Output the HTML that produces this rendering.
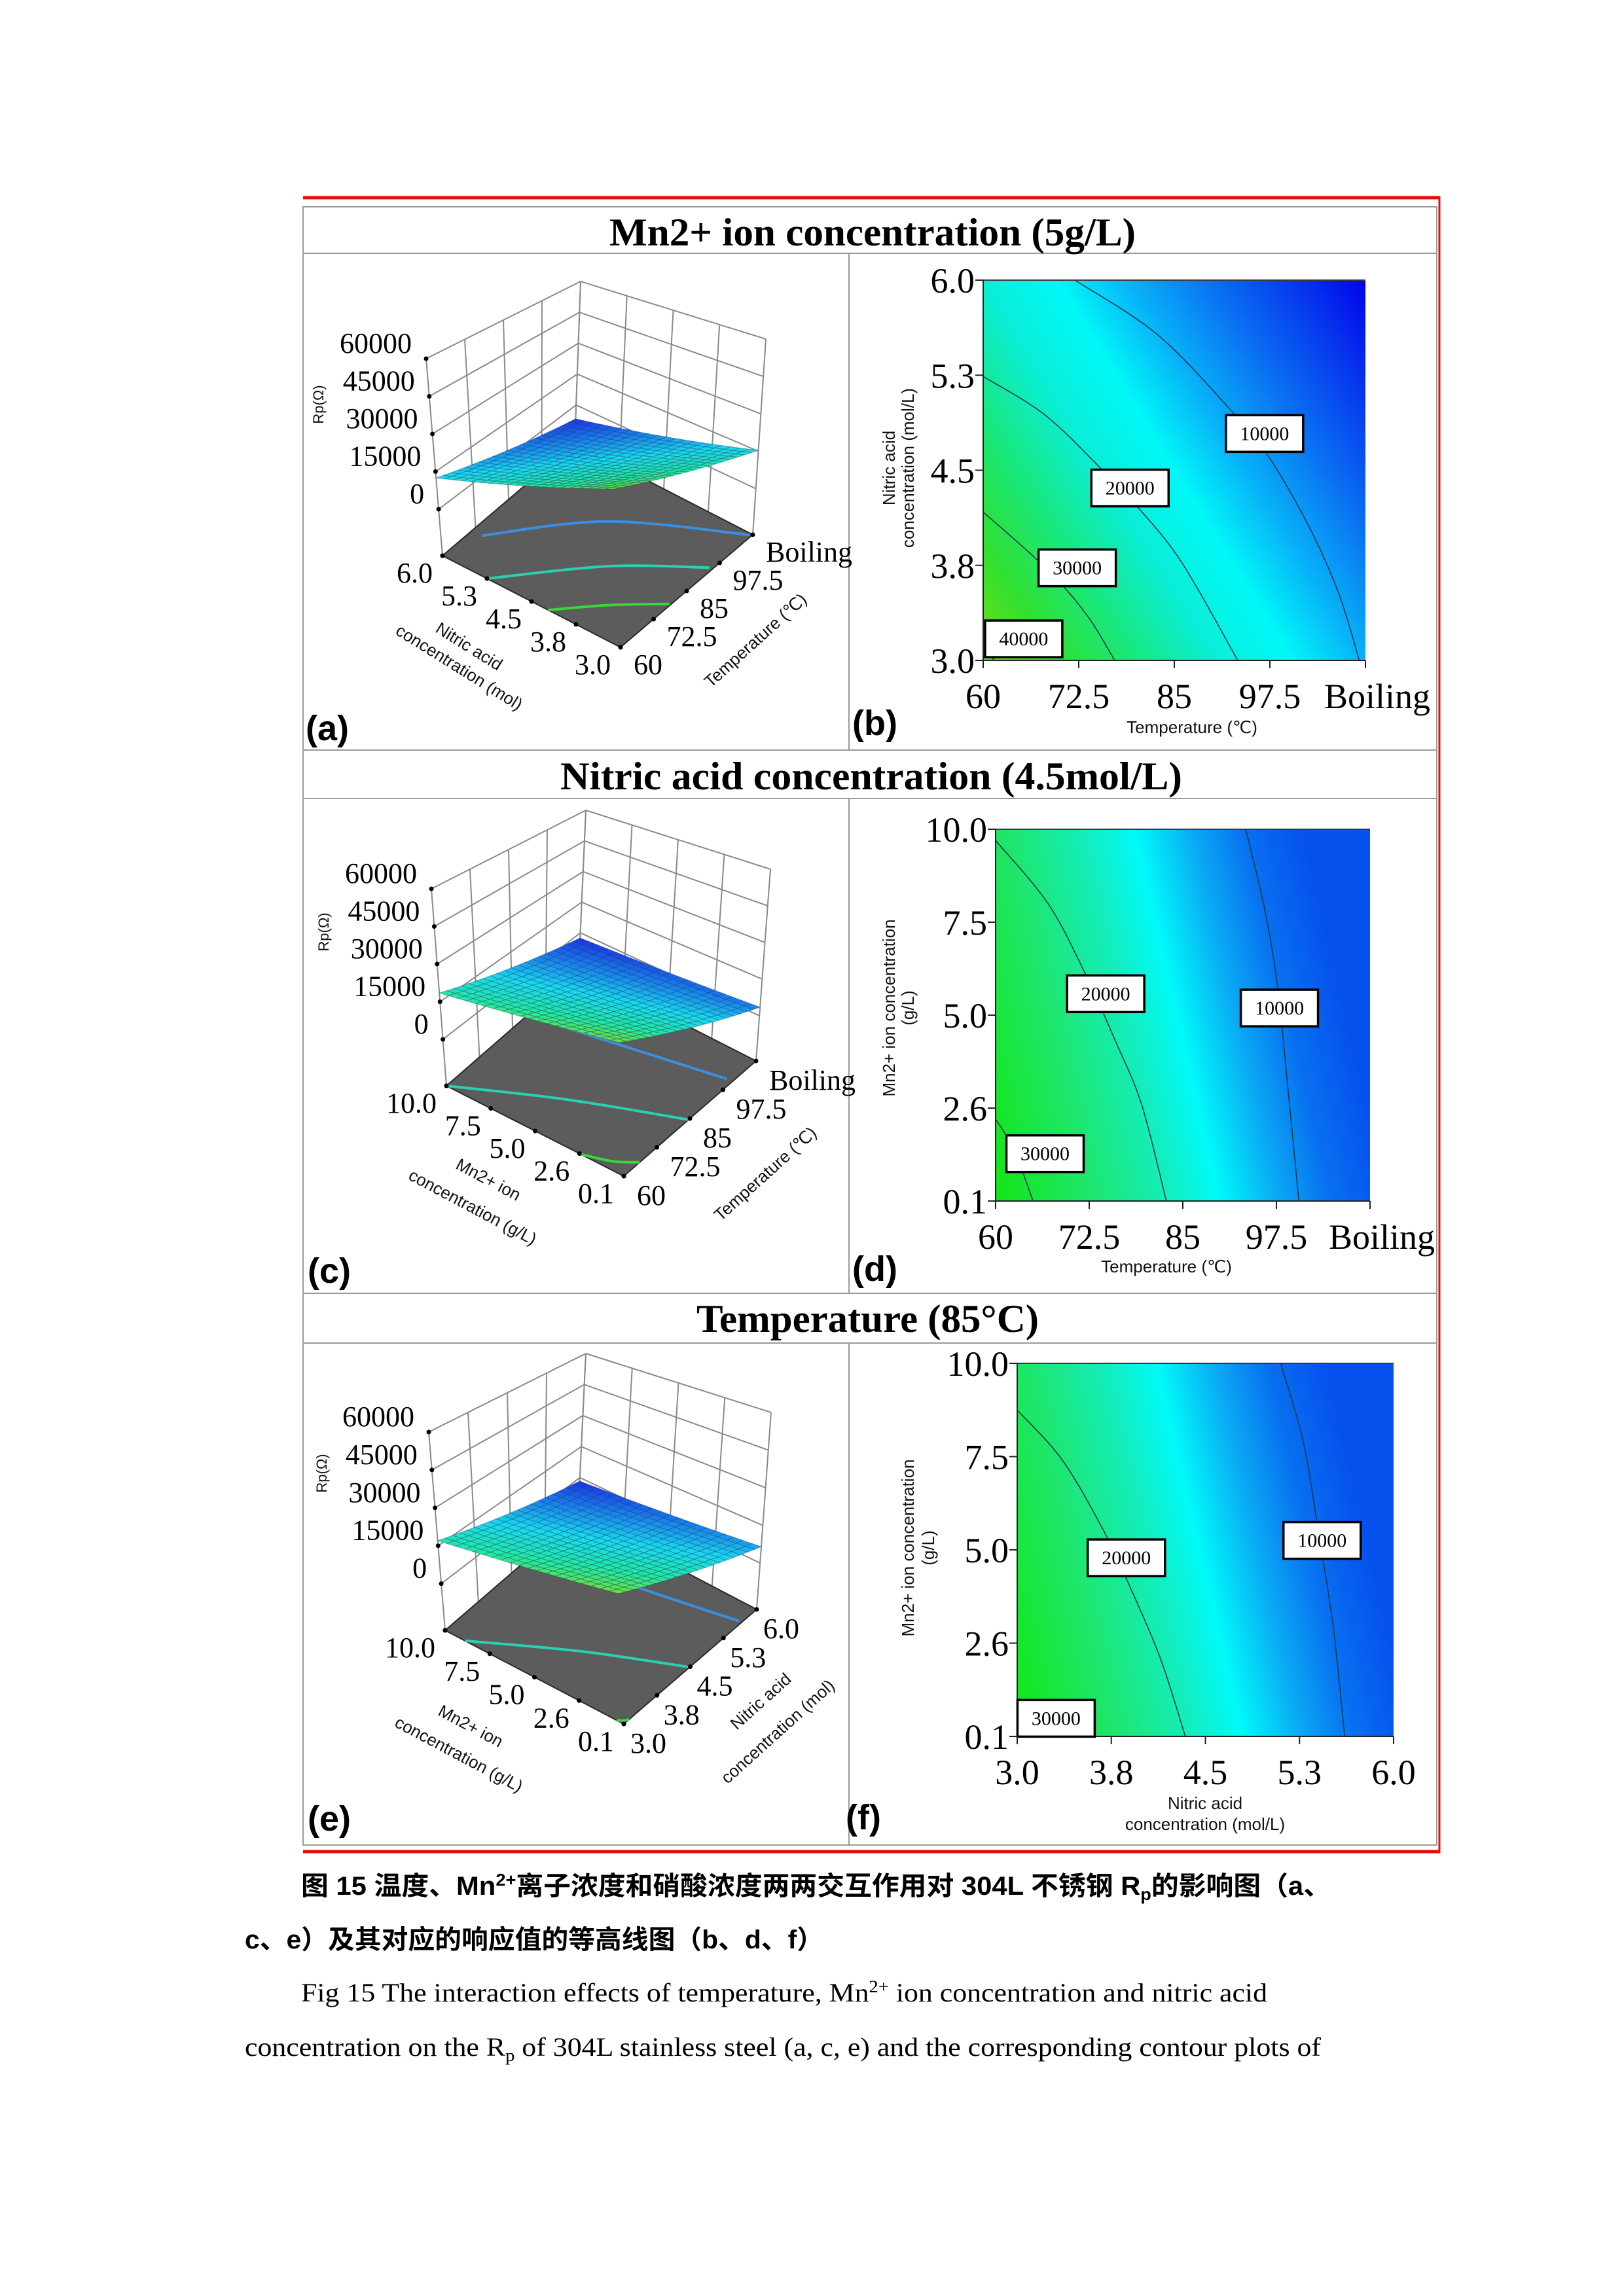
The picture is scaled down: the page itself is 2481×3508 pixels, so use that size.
<!DOCTYPE html>
<html><head><meta charset="utf-8"><title>Fig 15 response surfaces</title>
<style>body{margin:0;background:#fff}svg{display:block}</style></head>
<body>
<svg id="fig" xmlns="http://www.w3.org/2000/svg" width="2481" height="3508" viewBox="0 0 2481 3508">
<defs>
<linearGradient id="gradB" x1="0" y1="1" x2="1.17" y2="0.28">
<stop offset="0" stop-color="#6ee014"/><stop offset="0.12" stop-color="#30e030"/><stop offset="0.25" stop-color="#18e880"/><stop offset="0.38" stop-color="#0aeed8"/><stop offset="0.5" stop-color="#00f8f8"/><stop offset="0.62" stop-color="#08b0f8"/><stop offset="0.75" stop-color="#0a70f2"/><stop offset="0.9" stop-color="#0630ee"/><stop offset="1" stop-color="#0004ec"/>
</linearGradient>
<linearGradient id="gradD" x1="0" y1="1" x2="1" y2="0.77">
<stop offset="0" stop-color="#14e614"/><stop offset="0.25" stop-color="#1ee66e"/><stop offset="0.45" stop-color="#12eec0"/><stop offset="0.57" stop-color="#00fafa"/><stop offset="0.72" stop-color="#0aa8f4"/><stop offset="0.85" stop-color="#0870f0"/><stop offset="1" stop-color="#0650ee"/>
</linearGradient>
</defs>
<rect x="0" y="0" width="2481" height="3508" fill="#fff"/>
<g fill="none">
<rect x="463" y="316" width="1732" height="2503" stroke="#9a9a9a" stroke-width="2"/>
<line x1="463" y1="302" x2="2200" y2="302" stroke="#e01010" stroke-width="5"/>
<line x1="2199" y1="300" x2="2199" y2="2831" stroke="#e01010" stroke-width="3"/>
<line x1="463" y1="2829" x2="2200" y2="2829" stroke="#e01010" stroke-width="5"/>
<line x1="463" y1="387" x2="2195" y2="387" stroke="#9a9a9a" stroke-width="2"/>
<line x1="463" y1="1146" x2="2195" y2="1146" stroke="#9a9a9a" stroke-width="2"/>
<line x1="463" y1="1220" x2="2195" y2="1220" stroke="#9a9a9a" stroke-width="2"/>
<line x1="463" y1="1976" x2="2195" y2="1976" stroke="#9a9a9a" stroke-width="2"/>
<line x1="463" y1="2052" x2="2195" y2="2052" stroke="#9a9a9a" stroke-width="2"/>
<line x1="1297" y1="387" x2="1297" y2="1146" stroke="#9a9a9a" stroke-width="2"/>
<line x1="1297" y1="1220" x2="1297" y2="1976" stroke="#9a9a9a" stroke-width="2"/>
<line x1="1297" y1="2052" x2="1297" y2="2819" stroke="#9a9a9a" stroke-width="2"/>
</g>
<g font-family="'Liberation Serif','Noto Serif CJK SC',serif" font-weight="bold" font-size="60" fill="#000">
<text x="931" y="375" textLength="804" lengthAdjust="spacingAndGlyphs">Mn2+ ion concentration (5g/L)</text>
<text x="856" y="1206" textLength="950" lengthAdjust="spacingAndGlyphs">Nitric acid concentration  (4.5mol/L)</text>
<text x="1064" y="2035" textLength="523" lengthAdjust="spacingAndGlyphs">Temperature (85°C)</text>
</g>
<g font-family="'Liberation Sans',sans-serif" font-weight="bold" font-size="54" fill="#000">
<text x="467" y="1131">(a)</text>
<text x="1302" y="1123">(b)</text>
<text x="470" y="1960">(c)</text>
<text x="1302" y="1957">(d)</text>
<text x="470" y="2797">(e)</text>
<text x="1292" y="2795">(f)</text>
</g>
<g font-family="'Liberation Sans','Noto Sans CJK SC',sans-serif" font-weight="bold" font-size="40" fill="#000">
<text x="460" y="2895" textLength="1573" lengthAdjust="spacingAndGlyphs">图 15 温度、Mn<tspan font-size="26" dy="-14">2+</tspan><tspan dy="14">离子浓度和硝酸浓度两两交互作用对 304L 不锈钢 R</tspan><tspan font-size="26" dy="8">p</tspan><tspan dy="-8">的影响图（a、</tspan></text>
<text x="374" y="2977" textLength="884" lengthAdjust="spacingAndGlyphs">c、e）及其对应的响应值的等高线图（b、d、f）</text>
</g>
<g font-family="'Liberation Serif',serif" font-size="40" fill="#000">
<text x="460" y="3058" textLength="1476" lengthAdjust="spacingAndGlyphs">Fig 15 The interaction effects of temperature, Mn<tspan font-size="26" dy="-14">2+</tspan><tspan dy="14"> ion concentration and nitric acid</tspan></text>
<text x="374" y="3141" textLength="1644" lengthAdjust="spacingAndGlyphs">concentration on the R<tspan font-size="26" dy="8">p</tspan><tspan dy="-8"> of 304L stainless steel (a, c, e) and the corresponding contour plots of</tspan></text>
</g>
<g id="charts"></g>
</svg>
<script>
// ---------- data: 3D panels ----------
const zTickValues = [0, 15000, 30000, 45000, 60000];
const zTickLabels = ['0', '15000', '30000', '45000', '60000'];
const tempTickValues = [60, 72.5, 85, 97.5, 110];
const tempTickLabels = ['60', '72.5', '85', '97.5', 'Boiling'];
const nitricTickValues = [3, 3.75, 4.5, 5.25, 6];
const nitricTickLabels = ['3.0', '3.8', '4.5', '5.3', '6.0'];
const mnTickValues = [0.1, 2.575, 5.05, 7.525, 10];
const mnTickLabels = ['0.1', '2.6', '5.0', '7.5', '10.0'];

const aSurfaceLowV = [35300, 15400];
const aSurfaceHighV = [12500, -6700];
const cSurfaceLowV = [27400, 3500];
const cSurfaceHighV = [18500, -2500];
const eSurfaceLowV = [25400, 6500];
const eSurfaceHighV = [17000, -1700];

const aFloorBlueU = [71.2, 93, 109.5]; const aFloorBlueV = [5.83, 4.69, 3.03];
const aFloorTealU = [60, 80.7, 94.7];  const aFloorTealV = [5.25, 4.13, 3.05];
const aFloorGreenU = [60, 69.9, 79];   const aFloorGreenV = [4.22, 3.65, 3.02];
const cFloorBlueU = [90.5, 95.8, 101]; const cFloorBlueV = [10, 5.2, 0.4];
const cFloorTealU = [60, 73.1, 84.5];  const cFloorTealV = [10, 5.18, 0.1];
const cFloorGreenU = [60, 62.5, 66];   const cFloorGreenV = [2.5, 1.1, 0.1];
const eFloorBlueU = [5.04, 5.37, 5.66]; const eFloorBlueV = [10, 4.65, 0.24];
const eFloorTealU = [3.0, 3.82, 4.48];  const eFloorTealV = [8.9, 4.47, 0.15];
const eFloorGreenU = [3.0, 3.05, 3.12]; const eFloorGreenV = [0.5, 0.25, 0.1];

// ---------- data: contour panels ----------
const bC10000Temp = [72, 82.8, 92.6, 97.2, 102.5, 106.5, 109.2];
const bC10000Nitric = [6.0, 5.57, 4.96, 4.62, 4.07, 3.53, 3.0];
const bC20000Temp = [60, 68, 75.3, 80.2, 86, 93.3];
const bC20000Nitric = [5.24, 4.94, 4.52, 4.21, 3.77, 3.0];
const bC30000Temp = [60, 66.4, 70.4, 74, 77.2];
const bC30000Nitric = [4.17, 3.83, 3.59, 3.32, 3.0];
const bC40000Temp = [60, 61.5];
const bC40000Nitric = [3.09, 3.0];
const bLabelText = ['10000', '20000', '30000', '40000'];
const bLabelTemp = [96.8, 79.2, 72.3, 65.3];
const bLabelNitric = [4.79, 4.36, 3.73, 3.17];

const dC20000Temp = [60, 67, 72, 76, 79.5, 82.8];
const dC20000Mn = [9.7, 8.02, 6.14, 4.36, 2.67, 0.1];
const dC10000Temp = [93.4, 96, 97.7, 99, 100.5];
const dC10000Mn = [10, 7.82, 5.74, 3.17, 0.1];
const dC30000Temp = [60, 62.4, 65];
const dC30000Mn = [2.28, 1.49, 0.1];
const dLabelText = ['20000', '10000', '30000'];
const dLabelTemp = [74.7, 97.9, 66.6];
const dLabelMn = [5.62, 5.24, 1.36];

const fC20000Nitric = [3.0, 3.36, 3.69, 3.9, 4.14, 4.34];
const fC20000Mn = [8.76, 7.43, 5.55, 4.06, 2.18, 0.1];
const fC10000Nitric = [5.1, 5.28, 5.4, 5.52, 5.61];
const fC10000Mn = [10, 7.92, 5.55, 2.97, 0.1];
const fLabelText = ['20000', '10000', '30000'];
const fLabelNitric = [3.87, 5.43, 3.31];
const fLabelMn = [4.84, 5.3, 0.58];

// ---------- helpers ----------
const NS = 'http://www.w3.org/2000/svg';
const root = document.getElementById('charts');
function mk(tag, attrs, parent, name) {
  const e = document.createElementNS(NS, tag);
  for (const k in attrs) e.setAttribute(k, attrs[k]);
  
  
  parent.appendChild(e);
  return e;
}
function smoothPath(pts) {
  let d = 'M' + pts[0][0].toFixed(1) + ',' + pts[0][1].toFixed(1);
  if (pts.length === 2) return d + 'L' + pts[1][0].toFixed(1) + ',' + pts[1][1].toFixed(1);
  for (let i = 0; i < pts.length - 1; i++) {
    const p0 = pts[Math.max(0, i - 1)], p1 = pts[i], p2 = pts[i + 1], p3 = pts[Math.min(pts.length - 1, i + 2)];
    const c1 = [p1[0] + (p2[0] - p0[0]) / 6, p1[1] + (p2[1] - p0[1]) / 6];
    const c2 = [p2[0] - (p3[0] - p1[0]) / 6, p2[1] - (p3[1] - p1[1]) / 6];
    d += 'C' + c1[0].toFixed(1) + ',' + c1[1].toFixed(1) + ' ' + c2[0].toFixed(1) + ',' + c2[1].toFixed(1) + ' ' + p2[0].toFixed(1) + ',' + p2[1].toFixed(1);
  }
  return d;
}
function hex2rgb(h) { return [parseInt(h.substr(1, 2), 16), parseInt(h.substr(3, 2), 16), parseInt(h.substr(5, 2), 16)]; }
const cmapStops = [[0, '#1a35e6'], [0.45, '#18d8f0'], [0.75, '#22e8a0'], [1, '#70e038']];
function cmap(t) {
  t = Math.max(0, Math.min(1, t));
  for (let i = 0; i < cmapStops.length - 1; i++) {
    const [a, ca] = cmapStops[i], [b, cb] = cmapStops[i + 1];
    if (t <= b) {
      const f = (t - a) / (b - a), A = hex2rgb(ca), B = hex2rgb(cb);
      return 'rgb(' + A.map((x, k) => Math.round(x + f * (B[k] - x))).join(',') + ')';
    }
  }
  return cmapStops[cmapStops.length - 1][1];
}

// ---------- 3D panel ----------
const ZMIN = -18500, ZMAX = 60000;
function draw3D(cfg) {
  const g = mk('g', {}, root, cfg.name);
  const F = cfg.F, R = cfg.R, L = cfg.L, Lt = cfg.Lt, Bt = cfg.Bt, Rt = cfg.Rt;
  const Ft = [Lt[0] + Rt[0] - Bt[0], Lt[1] + Rt[1] - Bt[1]];
  const P = (u, v, w) => {
    const fx = F[0] + u * (R[0] - F[0]) + v * (L[0] - F[0]);
    const fy = F[1] + u * (R[1] - F[1]) + v * (L[1] - F[1]);
    const tx = Ft[0] + u * (Rt[0] - Ft[0]) + v * (Lt[0] - Ft[0]);
    const ty = Ft[1] + u * (Rt[1] - Ft[1]) + v * (Lt[1] - Ft[1]);
    return [fx + w * (tx - fx), fy + w * (ty - fy)];
  };
  const uS = x => (x - cfg.uDom[0]) / (cfg.uDom[1] - cfg.uDom[0]);
  const vS = x => (x - cfg.vDom[0]) / (cfg.vDom[1] - cfg.vDom[0]);
  const wS = z => (z - ZMIN) / (ZMAX - ZMIN);
  const line = (a, b, name, stroke, sw) => mk('line', { x1: a[0], y1: a[1], x2: b[0], y2: b[1], stroke: stroke, 'stroke-width': sw }, g, name);
  const wallLevels = [0].concat(zTickValues.map(wS));
  cfg.uTicks.forEach(t => line(P(uS(t), 1, 0), P(uS(t), 1, 1), 'wall-grid-vertical', '#8a8a8a', 2));
  cfg.vTicks.forEach(t => line(P(1, vS(t), 0), P(1, vS(t), 1), 'wall-grid-vertical', '#8a8a8a', 2));
  wallLevels.forEach(w => { line(P(0, 1, w), P(1, 1, w), 'wall-grid-horizontal', '#8a8a8a', 2); line(P(1, 1, w), P(1, 0, w), 'wall-grid-horizontal', '#8a8a8a', 2); });
  const fl = [P(0, 0, 0), P(1, 0, 0), P(1, 1, 0), P(0, 1, 0)];
  mk('polygon', { points: fl.map(p => p.join(',')).join(' '), fill: '#5c5c5c', stroke: '#2a2a2a', 'stroke-width': 2 }, g, 'floor-projection');
  cfg.floorLines.forEach(fc => {
    const pts = fc.u.map((x, i) => P(uS(x), vS(fc.v[i]), 0));
    mk('path', { d: smoothPath(pts), fill: 'none', stroke: fc.color, 'stroke-width': 4 }, g, fc.name);
  });
  const N = 20, s = cfg.surf;
  const vals = [s.lowV[0], s.lowV[1], s.highV[0], s.highV[1]];
  const vmin = Math.min(...vals), vmax = Math.max(...vals);
  const zAt = (u, v) => (1 - v) * ((1 - u) * s.lowV[0] + u * s.lowV[1]) + v * ((1 - u) * s.highV[0] + u * s.highV[1]);
  const sg = mk('g', {}, g, 'response-surface');
  const cells = [];
  for (let i = 0; i < N; i++) for (let j = 0; j < N; j++) cells.push([i, j]);
  cells.sort((a, b) => (b[0] + b[1]) - (a[0] + a[1]));
  cells.forEach(([i, j]) => {
    const u0 = i / N, u1 = (i + 1) / N, v0 = j / N, v1 = (j + 1) / N;
    const pts = [[u0, v0], [u1, v0], [u1, v1], [u0, v1]].map(([u, v]) => P(u, v, wS(zAt(u, v))));
    const zc = zAt((u0 + u1) / 2, (v0 + v1) / 2);
    mk('polygon', { points: pts.map(p => p[0].toFixed(1) + ',' + p[1].toFixed(1)).join(' '), fill: cmap((zc - vmin) / (vmax - vmin)), stroke: 'rgba(20,50,90,0.35)', 'stroke-width': 1 }, sg, 'surface-cell');
  });
  wallLevels.forEach(w => { const p = P(0, 1, w); mk('circle', { cx: p[0], cy: p[1], r: 3.5, fill: '#000' }, g, 'z-tick'); });
  cfg.uTicks.forEach(t => { const p = P(uS(t), 0, 0); mk('circle', { cx: p[0], cy: p[1], r: 3.5, fill: '#000' }, g, 'u-tick'); });
  cfg.vTicks.forEach(t => { const p = P(0, vS(t), 0); mk('circle', { cx: p[0], cy: p[1], r: 3.5, fill: '#000' }, g, 'v-tick'); });
  const tf = "'Liberation Serif',serif";
  zTickValues.forEach((z, i) => {
    const p = P(0, 1, wS(z));
    const t = mk('text', { x: p[0] - 22, y: p[1] - 9, 'text-anchor': 'end', 'font-family': tf, 'font-size': 44 }, g, 'z-tick-label');
    t.textContent = zTickLabels[i];
  });
  cfg.uTicks.forEach((v, i) => {
    const p = P(uS(v), 0, 0);
    const t = mk('text', { x: p[0] + cfg.uOff[0], y: p[1] + cfg.uOff[1], 'text-anchor': 'start', 'font-family': tf, 'font-size': 44 }, g, 'u-tick-label');
    t.textContent = cfg.uLabels[i];
  });
  cfg.vTicks.forEach((v, i) => {
    const p = P(0, vS(v), 0);
    const t = mk('text', { x: p[0] - 15, y: p[1] + 41, 'text-anchor': 'end', 'font-family': tf, 'font-size': 44 }, g, 'v-tick-label');
    t.textContent = cfg.vLabels[i];
  });
  const sf = "'Liberation Sans','DejaVu Sans',sans-serif";
  cfg.titles.forEach(tt => {
    const t = mk('text', { x: 0, y: 0, transform: 'translate(' + tt.x + ',' + tt.y + ') rotate(' + tt.rot + ')', 'text-anchor': 'middle', 'font-family': sf, 'font-size': tt.fs || 26, fill: '#111' }, g, tt.name);
    t.textContent = tt.text;
  });
}

draw3D({
  name: 'surface-plot-a', F: [948, 989], R: [1150, 817], L: [676, 849], Lt: [651, 548], Bt: [887, 430], Rt: [1170, 518],
  uDom: [60, 110], vDom: [3, 6], uTicks: tempTickValues, uLabels: tempTickLabels, vTicks: nitricTickValues, vLabels: nitricTickLabels,
  uOff: [20, 41], surf: { lowV: aSurfaceLowV, highV: aSurfaceHighV },
  floorLines: [
    { name: 'floor-contour-10000', u: aFloorBlueU, v: aFloorBlueV, color: '#3a8fe0' },
    { name: 'floor-contour-20000', u: aFloorTealU, v: aFloorTealV, color: '#2ad0b0' },
    { name: 'floor-contour-30000', u: aFloorGreenU, v: aFloorGreenV, color: '#38d838' }],
  titles: [
    { name: 'z-axis-title', text: 'Rp(Ω)', x: 494, y: 618, rot: -90, fs: 22 },
    { name: 'nitric-axis-title-line1', text: 'Nitric acid', x: 712, y: 995, rot: 32 },
    { name: 'nitric-axis-title-line2', text: 'concentration (mol)', x: 697, y: 1027, rot: 32 },
    { name: 'temperature-axis-title', text: 'Temperature (℃)', x: 1160, y: 985, rot: -42 }]
});
draw3D({
  name: 'surface-plot-c', F: [953, 1797], R: [1155, 1621], L: [682, 1659], Lt: [659, 1358], Bt: [895, 1238], Rt: [1177, 1328],
  uDom: [60, 110], vDom: [0.1, 10], uTicks: tempTickValues, uLabels: tempTickLabels, vTicks: mnTickValues, vLabels: mnTickLabels,
  uOff: [20, 44], surf: { lowV: cSurfaceLowV, highV: cSurfaceHighV },
  floorLines: [
    { name: 'floor-contour-10000', u: cFloorBlueU, v: cFloorBlueV, color: '#3a8fe0' },
    { name: 'floor-contour-20000', u: cFloorTealU, v: cFloorTealV, color: '#2ad0b0' },
    { name: 'floor-contour-30000', u: cFloorGreenU, v: cFloorGreenV, color: '#38d838' }],
  titles: [
    { name: 'z-axis-title', text: 'Rp(Ω)', x: 502, y: 1424, rot: -90, fs: 22 },
    { name: 'mn-axis-title-line1', text: 'Mn2+ ion', x: 742, y: 1810, rot: 28 },
    { name: 'mn-axis-title-line2', text: 'concentration (g/L)', x: 718, y: 1852, rot: 28 },
    { name: 'temperature-axis-title', text: 'Temperature (℃)', x: 1175, y: 1800, rot: -42 }]
});
draw3D({
  name: 'surface-plot-e', F: [953, 2634], R: [1156, 2459], L: [680, 2491], Lt: [655, 2188], Bt: [895, 2068], Rt: [1178, 2158],
  uDom: [3, 6], vDom: [0.1, 10], uTicks: nitricTickValues, uLabels: nitricTickLabels, vTicks: mnTickValues, vLabels: mnTickLabels,
  uOff: [10, 44], surf: { lowV: eSurfaceLowV, highV: eSurfaceHighV },
  floorLines: [
    { name: 'floor-contour-10000', u: eFloorBlueU, v: eFloorBlueV, color: '#3a8fe0' },
    { name: 'floor-contour-20000', u: eFloorTealU, v: eFloorTealV, color: '#2ad0b0' },
    { name: 'floor-contour-30000', u: eFloorGreenU, v: eFloorGreenV, color: '#38d838' }],
  titles: [
    { name: 'z-axis-title', text: 'Rp(Ω)', x: 499, y: 2251, rot: -90, fs: 22 },
    { name: 'mn-axis-title-line1', text: 'Mn2+ ion', x: 715, y: 2645, rot: 28 },
    { name: 'mn-axis-title-line2', text: 'concentration (g/L)', x: 697, y: 2688, rot: 28 },
    { name: 'nitric-axis-title-line1', text: 'Nitric acid', x: 1168, y: 2606, rot: -42 },
    { name: 'nitric-axis-title-line2', text: 'concentration (mol)', x: 1194, y: 2652, rot: -42 }]
});

// ---------- contour panel ----------
function drawContour(cfg) {
  const g = mk('g', {}, root, cfg.name);
  const [x0, y0, x1, y1] = cfg.rect;
  const X = v => x0 + (v - cfg.xDom[0]) / (cfg.xDom[1] - cfg.xDom[0]) * (x1 - x0);
  const Y = v => y1 - (v - cfg.yDom[0]) / (cfg.yDom[1] - cfg.yDom[0]) * (y1 - y0);
  mk('rect', { x: x0, y: y0, width: x1 - x0, height: y1 - y0, fill: 'url(#' + cfg.grad + ')' }, g, 'contour-color-field');
  mk('line', { x1: x0, y1: y0, x2: x1, y2: y0, stroke: '#3a3a3a', 'stroke-width': 2 }, g, 'plot-top-edge');
  mk('line', { x1: x0, y1: y0, x2: x0, y2: y1 + 12, stroke: '#222', 'stroke-width': 2 }, g, 'y-axis-line');
  mk('line', { x1: x0 - 12, y1: y1, x2: x1, y2: y1, stroke: '#222', 'stroke-width': 2 }, g, 'x-axis-line');
  cfg.lines.forEach(c => {
    const pts = c.x.map((v, i) => [X(v), Y(c.y[i])]);
    mk('path', { d: smoothPath(pts), fill: 'none', stroke: '#1c3a4a', 'stroke-width': 1.6 }, g, c.name);
  });
  const tf = "'Liberation Serif',serif";
  cfg.labels.text.forEach((txt, i) => {
    const cx = X(cfg.labels.x[i]), cy = Y(cfg.labels.y[i]);
    mk('rect', { x: cx - 59, y: cy - 28, width: 118, height: 56, fill: '#fff', stroke: '#000', 'stroke-width': 3.5 }, g, 'contour-label-box');
    const t = mk('text', { x: cx, y: cy + 10, 'text-anchor': 'middle', 'font-family': tf, 'font-size': 30 }, g, 'contour-label-' + txt);
    t.textContent = txt;
  });
  cfg.xTicks.forEach((v, i) => {
    mk('line', { x1: X(v), y1: y1, x2: X(v), y2: y1 + 12, stroke: '#222', 'stroke-width': 2 }, g, 'x-tick');
    const lab = cfg.xLabels[i];
    const t = mk('text', { x: X(v) + (lab === 'Boiling' ? 18 : 0), y: y1 + 73, 'text-anchor': 'middle', 'font-family': tf, 'font-size': 54 }, g, 'x-tick-label');
    t.textContent = lab;
  });
  cfg.yTicks.forEach((v, i) => {
    mk('line', { x1: x0 - 12, y1: Y(v), x2: x0, y2: Y(v), stroke: '#222', 'stroke-width': 2 }, g, 'y-tick');
    const t = mk('text', { x: x0 - 13, y: Y(v) + 19, 'text-anchor': 'end', 'font-family': tf, 'font-size': 54 }, g, 'y-tick-label');
    t.textContent = cfg.yLabels[i];
  });
  const sf = "'Liberation Sans','DejaVu Sans',sans-serif";
  cfg.titles.forEach(tt => {
    const t = mk('text', { x: 0, y: 0, transform: 'translate(' + tt.x + ',' + tt.y + ') rotate(' + tt.rot + ')', 'text-anchor': 'middle', 'font-family': sf, 'font-size': 26, fill: '#111' }, g, tt.name);
    t.textContent = tt.text;
  });
}

drawContour({
  name: 'contour-plot-b', rect: [1502, 428, 2086, 1009], grad: 'gradB', xDom: [60, 110], yDom: [3, 6],
  xTicks: tempTickValues, xLabels: tempTickLabels, yTicks: nitricTickValues, yLabels: nitricTickLabels,
  lines: [
    { name: 'contour-line-10000', x: bC10000Temp, y: bC10000Nitric },
    { name: 'contour-line-20000', x: bC20000Temp, y: bC20000Nitric },
    { name: 'contour-line-30000', x: bC30000Temp, y: bC30000Nitric },
    { name: 'contour-line-40000', x: bC40000Temp, y: bC40000Nitric }],
  labels: { text: bLabelText, x: bLabelTemp, y: bLabelNitric },
  titles: [
    { name: 'x-axis-title', text: 'Temperature (℃)', x: 1821, y: 1120, rot: 0 },
    { name: 'y-axis-title-line1', text: 'Nitric acid', x: 1367, y: 715, rot: -90 },
    { name: 'y-axis-title-line2', text: 'concentration (mol/L)', x: 1396, y: 715, rot: -90 }]
});
drawContour({
  name: 'contour-plot-d', rect: [1521, 1267, 2093, 1835], grad: 'gradD', xDom: [60, 110], yDom: [0.1, 10],
  xTicks: tempTickValues, xLabels: tempTickLabels, yTicks: mnTickValues, yLabels: mnTickLabels,
  lines: [
    { name: 'contour-line-20000', x: dC20000Temp, y: dC20000Mn },
    { name: 'contour-line-10000', x: dC10000Temp, y: dC10000Mn },
    { name: 'contour-line-30000', x: dC30000Temp, y: dC30000Mn }],
  labels: { text: dLabelText, x: dLabelTemp, y: dLabelMn },
  titles: [
    { name: 'x-axis-title', text: 'Temperature (℃)', x: 1782, y: 1944, rot: 0 },
    { name: 'y-axis-title-line1', text: 'Mn2+ ion concentration', x: 1367, y: 1540, rot: -90 },
    { name: 'y-axis-title-line2', text: '(g/L)', x: 1396, y: 1540, rot: -90 }]
});
drawContour({
  name: 'contour-plot-f', rect: [1554, 2083, 2129, 2653], grad: 'gradD', xDom: [3, 6], yDom: [0.1, 10],
  xTicks: nitricTickValues, xLabels: nitricTickLabels, yTicks: mnTickValues, yLabels: mnTickLabels,
  lines: [
    { name: 'contour-line-20000', x: fC20000Nitric, y: fC20000Mn },
    { name: 'contour-line-10000', x: fC10000Nitric, y: fC10000Mn }],
  labels: { text: fLabelText, x: fLabelNitric, y: fLabelMn },
  titles: [
    { name: 'x-axis-title-line1', text: 'Nitric acid', x: 1841, y: 2764, rot: 0 },
    { name: 'x-axis-title-line2', text: 'concentration (mol/L)', x: 1841, y: 2796, rot: 0 },
    { name: 'y-axis-title-line1', text: 'Mn2+ ion concentration', x: 1396, y: 2365, rot: -90 },
    { name: 'y-axis-title-line2', text: '(g/L)', x: 1427, y: 2365, rot: -90 }]
});
</script>
</body></html>
